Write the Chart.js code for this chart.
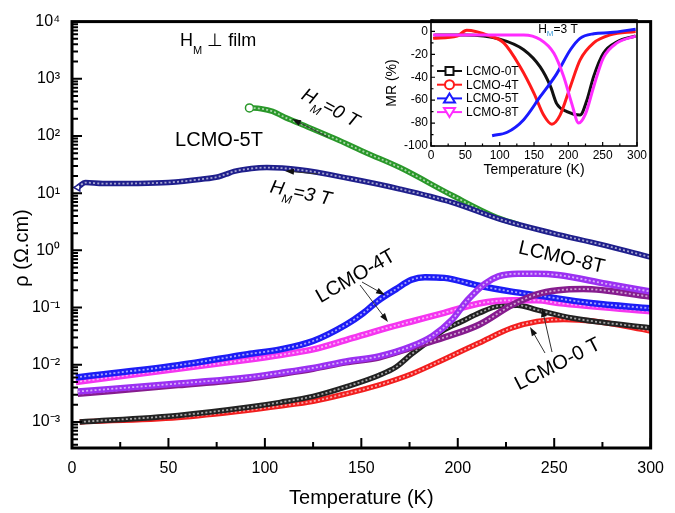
<!DOCTYPE html>
<html>
<head>
<meta charset="utf-8">
<script src="https://cdn.jsdelivr.net/npm/chart.js@4"></script>
<style>
  html, body { margin: 0; padding: 0; background: #fff; }
  #wrap { position: relative; width: 675px; height: 513px; }
  #main { position: absolute; left: 0; top: 0; }
  #inset { position: absolute; left: 380px; top: 8px; }
</style>
</head>
<body>
<div id="wrap">
  <canvas id="main" width="675" height="513"></canvas>
  <canvas id="inset" width="290" height="182"></canvas>
</div>
<script>
/* ---------- main panel: rho (ohm.cm) vs T (K) ---------- */
const navyT = [3, 7, 16, 33, 50, 67, 76, 80, 84, 93, 101, 118, 144, 170, 197, 223, 249, 274, 300];
const navyRho = [12.6, 15.3, 14.7, 14.8, 15.4, 17.5, 19.4, 21.5, 24, 27, 28, 25.6, 18, 11.8, 6.9, 3.4, 2.0, 1.27, 0.76];

const greenT = [92, 98, 104, 110, 118, 136, 153, 170, 197, 220, 232];
const greenRho = [310, 300, 270, 215, 165, 91, 50, 28, 9.2, 3.8, 2.8];

const blueT = [2, 55, 91, 108, 125, 142, 151, 159, 168, 176, 183, 193, 211, 228, 241, 269, 300];
const blueRho = [0.006, 0.0098, 0.0153, 0.0186, 0.026, 0.05, 0.08, 0.134, 0.21, 0.305, 0.34, 0.33, 0.24, 0.19, 0.164, 0.12, 0.097];

const magentaT = [2, 55, 91, 108, 125, 142, 159, 176, 193, 211, 228, 241, 252, 300];
const magentaRho = [0.005, 0.0085, 0.0122, 0.0148, 0.0186, 0.027, 0.040, 0.057, 0.081, 0.118, 0.134, 0.134, 0.12, 0.086];

const violetT = [3, 55, 91, 108, 125, 142, 159, 176, 187, 197, 205, 214, 221, 231, 241, 252, 277, 300];
const violetRho = [0.0034, 0.0047, 0.006, 0.0072, 0.0088, 0.0114, 0.014, 0.021, 0.032, 0.061, 0.134, 0.26, 0.35, 0.39, 0.39, 0.37, 0.26, 0.19];

const purpleT = [3, 55, 91, 108, 125, 142, 159, 176, 193, 211, 228, 241, 252, 265, 300];
const purpleRho = [0.0031, 0.0044, 0.0057, 0.0069, 0.0085, 0.011, 0.0134, 0.020, 0.030, 0.050, 0.11, 0.17, 0.20, 0.21, 0.155];

const blackT = [4, 55, 91, 108, 125, 142, 159, 168, 176, 185, 193, 202, 211, 221, 231, 241, 260, 300];
const blackRho = [0.001, 0.0013, 0.0018, 0.0022, 0.0028, 0.0041, 0.0065, 0.0091, 0.0153, 0.026, 0.041, 0.057, 0.08, 0.106, 0.11, 0.091, 0.065, 0.044];

const redT = [4, 55, 91, 108, 125, 142, 159, 176, 193, 211, 228, 241, 255, 270, 300];
const redRho = [0.001, 0.0012, 0.0016, 0.0019, 0.0023, 0.0031, 0.0044, 0.0069, 0.0125, 0.024, 0.044, 0.057, 0.062, 0.058, 0.039];

const rhoDecades = [-3, -2, -1, 0, 1, 2, 3, 4];

/* ---------- inset: MR (%) vs T (K), H_M = 3 T ---------- */
const insetNames = ['LCMO-0T', 'LCMO-4T', 'LCMO-5T', 'LCMO-8T'];
const mrTicks = [-100, -80, -60, -40, -20, 0];
const mr0T = [5, 50, 100, 135, 159, 174, 183, 198, 217, 227, 237, 251, 271, 298];
const mr0 = [-3, -3, -6.7, -16, -31, -48, -63, -70, -73, -60, -39, -19, -9, -4];
const mr4T = [3, 38, 52, 86, 106, 130, 150, 164, 176, 188, 203, 217, 237, 261, 298];
const mr4 = [-6, -4, 1, -4, -10, -31, -54, -73, -81, -73, -48, -25, -10, -3, 0];
const mr5T = [89, 111, 135, 159, 183, 203, 217, 237, 261, 298];
const mr5 = [-91, -88, -77, -57, -37, -16, -6, -2, -1, 2];
const mr8T = [3, 50, 100, 135, 159, 179, 193, 205, 215, 225, 237, 251, 271, 298];
const mr8 = [-3, -3, -3, -3, -7, -19, -39, -63, -80, -72, -48, -23, -10, -4];

const FONT = "'Liberation Sans', Arial, sans-serif";
Chart.defaults.font.family = FONT;
Chart.defaults.color = '#000';

function pts(xs, ys) {
  return xs.map((x, i) => ({ x: x, y: ys[i] }));
}

const SUP = { '-': '\u207B', '0': '\u2070', '1': '\u00B9', '2': '\u00B2', '3': '\u00B3',
  '4': '\u2074', '5': '\u2075', '6': '\u2076', '7': '\u2077', '8': '\u2078', '9': '\u2079' };
function sup(n) {
  return String(n).split('').map(c => SUP[c]).join('');
}

// top-most first (chart.js draws dataset 0 last)
const curves = [
  { T: violetT, rho: violetRho, color: '#9b30f2', width: 6.5 },
  { T: purpleT, rho: purpleRho, color: '#861c8e', width: 6.5 },
  { T: blueT, rho: blueRho, color: '#1c1cf5', width: 6.5 },
  { T: magentaT, rho: magentaRho, color: '#f535f0', width: 6.5 },
  { T: blackT, rho: blackRho, color: '#222222', width: 5.5 },
  { T: redT, rho: redRho, color: '#f21e1e', width: 5.5 },
  { T: navyT, rho: navyRho, color: '#1f1f8c', width: 5.5, start: 'triangle' },
  { T: greenT, rho: greenRho, color: '#2a982a', width: 5.5, start: 'circle' }
];

const mainSets = [];
curves.forEach(c => {
  // white speckle to look like open symbols
  mainSets.push({
    data: pts(c.T, c.rho),
    borderColor: 'rgba(255,255,255,0.6)',
    borderWidth: 1.8,
    borderDash: [2, 2.2],
    pointRadius: 0,
    cubicInterpolationMode: 'monotone'
  });
  mainSets.push({
    data: pts(c.T, c.rho),
    borderColor: c.color,
    borderWidth: c.width,
    cubicInterpolationMode: 'monotone',
    pointRadius: ctx => (c.start && ctx.dataIndex === 0 ? 4 : 0),
    pointStyle: c.start || 'circle',
    pointRotation: c.start === 'triangle' ? -90 : 0,
    pointBackgroundColor: '#fff',
    pointBorderColor: c.color,
    pointBorderWidth: 1.5
  });
});

function label(ctx, parts, cx, cy, deg, opts) {
  opts = opts || {};
  const fontOf = p => (p.i ? 'italic ' : '') + p.s + 'px ' + FONT;
  ctx.save();
  ctx.translate(cx, cy);
  ctx.rotate(deg * Math.PI / 180);
  ctx.textBaseline = 'alphabetic';
  ctx.textAlign = 'left';
  const widths = parts.map(p => { ctx.font = fontOf(p); return ctx.measureText(p.t).width; });
  const total = widths.reduce((a, b) => a + b, 0);
  let x = opts.left ? 0 : -total / 2;
  const base = opts.baseline ? 0 : parts[0].s * 0.36;
  parts.forEach((p, i) => {
    ctx.font = fontOf(p);
    ctx.fillStyle = p.c || '#000';
    ctx.fillText(p.t, x, base + (p.dy || 0));
    x += widths[i];
  });
  ctx.restore();
}

function arrow(ctx, x1, y1, x2, y2) {
  const a = Math.atan2(y2 - y1, x2 - x1);
  const c = Math.cos(a), s = Math.sin(a);
  ctx.beginPath();
  ctx.moveTo(x1, y1);
  ctx.lineTo(x2 - 6 * c, y2 - 6 * s);
  ctx.stroke();
  ctx.beginPath();
  ctx.moveTo(x2, y2);
  ctx.lineTo(x2 - 9 * c + 3 * s, y2 - 9 * s - 3 * c);
  ctx.lineTo(x2 - 9 * c - 3 * s, y2 - 9 * s + 3 * c);
  ctx.closePath();
  ctx.fill();
}

const mainDecor = {
  id: 'mainDecor',
  afterDraw(chart) {
    const { ctx, chartArea: a, scales: { x, y } } = chart;
    ctx.save();
    // inward ticks on left and bottom
    ctx.strokeStyle = '#000';
    ctx.lineWidth = 2;
    ctx.beginPath();
    for (let t = 0; t <= 300; t += 25) {
      const px = x.getPixelForValue(t);
      const len = t % 50 === 0 ? 10 : 6;
      ctx.moveTo(px, a.bottom);
      ctx.lineTo(px, a.bottom - len);
    }
    for (let e = -4; e <= 3; e++) {
      for (let m = 1; m <= 9; m++) {
        const v = m * Math.pow(10, e);
        if (v < y.min || v > y.max) continue;
        const py = y.getPixelForValue(v);
        ctx.moveTo(a.left, py);
        ctx.lineTo(a.left + (m === 1 ? 10 : 6), py);
      }
    }
    ctx.stroke();
    // frame
    ctx.lineWidth = 3;
    ctx.strokeRect(a.left, a.top, a.right - a.left, a.bottom - a.top);

    // y title
    ctx.save();
    ctx.translate(22, 248);
    ctx.rotate(-Math.PI / 2);
    ctx.font = '20px ' + FONT;
    ctx.fillStyle = '#000';
    ctx.textAlign = 'center';
    ctx.textBaseline = 'middle';
    ctx.fillText('\u03C1 (\u03A9.cm)', 0, 0);
    ctx.restore();

    // annotations
    label(ctx, [{ t: 'H', s: 18 }, { t: 'M', s: 11, dy: 8 }, { t: ' \u22A5 film', s: 18 }], 180, 46, 0, { left: true, baseline: true });
    label(ctx, [{ t: 'LCMO-5T', s: 20 }], 219, 139, 0);
    label(ctx, [{ t: 'H', s: 19, i: 1 }, { t: 'M', s: 12, dy: 7, i: 1 }, { t: '=0 T', s: 19, i: 1 }], 331, 107, 28);
    label(ctx, [{ t: 'H', s: 19, i: 1 }, { t: 'M', s: 12, dy: 7, i: 1 }, { t: '=3 T', s: 19, i: 1 }], 301, 192, 12);
    label(ctx, [{ t: 'LCMO-8T', s: 20 }], 562, 256, 13);
    label(ctx, [{ t: 'LCMO-4T', s: 20 }], 355, 275, -30);
    label(ctx, [{ t: 'LCMO-0 T', s: 20 }], 557, 363, -27);

    ctx.strokeStyle = '#333';
    ctx.fillStyle = '#111';
    ctx.lineWidth = 1;
    arrow(ctx, 328, 137, 292, 119);
    arrow(ctx, 318, 174, 285, 171);
    arrow(ctx, 362, 282, 385, 295);
    arrow(ctx, 360, 285, 388, 322);
    arrow(ctx, 545, 353, 530, 327);
    arrow(ctx, 552, 352, 542, 308);
    ctx.restore();
  }
};

new Chart(document.getElementById('main'), {
  type: 'line',
  data: { datasets: mainSets },
  options: {
    responsive: false,
    animation: false,
    layout: { padding: { left: 0, right: 17, top: 13, bottom: 0 } },
    plugins: { legend: { display: false }, tooltip: { enabled: false } },
    scales: {
      x: {
        type: 'linear', min: 0, max: 300,
        grid: { display: false, drawTicks: false },
        border: { display: false },
        ticks: { stepSize: 50, padding: 11, font: { size: 16 } },
        title: { display: true, text: 'Temperature (K)', font: { size: 20 }, padding: { top: 3, bottom: 3 } },
        afterFit(s) { s.height = 65; }
      },
      y: {
        type: 'logarithmic', min: 3.5e-4, max: 1e4,
        grid: { display: false, drawTicks: false },
        border: { display: false },
        afterBuildTicks(s) { s.ticks = rhoDecades.map(e => ({ value: Math.pow(10, e) })); },
        ticks: {
          padding: 12, font: { size: 16 },
          callback: v => '10' + sup(Math.round(Math.log10(v)))
        },
        afterFit(s) { s.width = 72; }
      }
    }
  },
  plugins: [mainDecor]
});

/* ---------- inset ---------- */
const insetCurves = [
  { T: mr0T, mr: mr0, color: '#111111', marker: 'rect' },
  { T: mr4T, mr: mr4, color: '#ff1a1a', marker: 'circle' },
  { T: mr5T, mr: mr5, color: '#1a1aff', marker: 'triUp' },
  { T: mr8T, mr: mr8, color: '#ff2cff', marker: 'triDown' }
];
const insetSets = insetCurves.map((c, i) => ({
  label: insetNames[i],
  data: pts(c.T, c.mr),
  borderColor: c.color,
  borderWidth: 3,
  pointRadius: 0,
  cubicInterpolationMode: 'monotone',
  marker: c.marker
})).reverse();

function marker(ctx, kind, cx, cy) {
  ctx.beginPath();
  if (kind === 'rect') ctx.rect(cx - 4, cy - 4, 8, 8);
  else if (kind === 'circle') ctx.arc(cx, cy, 4.5, 0, Math.PI * 2);
  else if (kind === 'triUp') { ctx.moveTo(cx, cy - 5); ctx.lineTo(cx + 5.5, cy + 4); ctx.lineTo(cx - 5.5, cy + 4); ctx.closePath(); }
  else { ctx.moveTo(cx, cy + 5); ctx.lineTo(cx + 5.5, cy - 4); ctx.lineTo(cx - 5.5, cy - 4); ctx.closePath(); }
  ctx.fill();
  ctx.stroke();
}

const insetDecor = {
  id: 'insetDecor',
  afterDraw(chart) {
    const { ctx, chartArea: a, scales: { x, y } } = chart;
    ctx.save();
    ctx.strokeStyle = '#000';
    ctx.lineWidth = 1.2;
    ctx.beginPath();
    for (let t = 0; t <= 300; t += 25) {
      const px = x.getPixelForValue(t);
      ctx.moveTo(px, a.bottom);
      ctx.lineTo(px, a.bottom - (t % 50 === 0 ? 4 : 2.5));
    }
    for (let v = -100; v <= 10; v += 10) {
      const py = y.getPixelForValue(v);
      ctx.moveTo(a.left, py);
      ctx.lineTo(a.left + (v % 20 === 0 ? 4 : 2.5), py);
    }
    ctx.stroke();
    ctx.lineWidth = 1.6;
    ctx.strokeRect(a.left, a.top, a.right - a.left, a.bottom - a.top);

    // legend
    const items = chart.data.datasets.slice().reverse();
    items.forEach((d, i) => {
      const cy = 63 + i * 13.7;
      ctx.strokeStyle = d.borderColor;
      ctx.fillStyle = '#fff';
      ctx.lineWidth = 2;
      ctx.beginPath();
      ctx.moveTo(57, cy);
      ctx.lineTo(82, cy);
      ctx.stroke();
      marker(ctx, d.marker, 69.5, cy);
      ctx.fillStyle = '#000';
      ctx.font = '12px ' + FONT;
      ctx.textBaseline = 'middle';
      ctx.textAlign = 'left';
      ctx.fillText(d.label, 86, cy + 0.5);
    });

    label(ctx, [{ t: 'H', s: 12 }, { t: 'M', s: 8, dy: 3, c: '#3a9ad9' }, { t: '=3 T', s: 12 }], 178, 21, 0);
    ctx.restore();
  }
};

new Chart(document.getElementById('inset'), {
  type: 'line',
  data: { datasets: insetSets },
  options: {
    responsive: false,
    animation: false,
    layout: { padding: { left: 0, right: 33, top: 12, bottom: 0 } },
    plugins: { legend: { display: false }, tooltip: { enabled: false } },
    scales: {
      x: {
        type: 'linear', min: 0, max: 300,
        grid: { display: false, drawTicks: false },
        border: { display: false },
        ticks: { stepSize: 50, padding: 2, font: { size: 12 } },
        title: { display: true, text: 'Temperature (K)', font: { size: 14 }, padding: { top: 11, bottom: 11 } },
        afterFit(s) { s.height = 44; }
      },
      y: {
        type: 'linear', min: -100, max: 10,
        grid: { display: false, drawTicks: false },
        border: { display: false },
        ticks: { padding: 3, font: { size: 12 }, autoSkip: false },
        afterBuildTicks(s) { s.ticks = mrTicks.map(v => ({ value: v })); },
        title: { display: true, text: 'MR (%)', font: { size: 14 }, padding: { top: 4, bottom: 4 } },
        afterFit(s) { s.width = 51; }
      }
    }
  },
  plugins: [insetDecor]
});
</script>
</body>
</html>
